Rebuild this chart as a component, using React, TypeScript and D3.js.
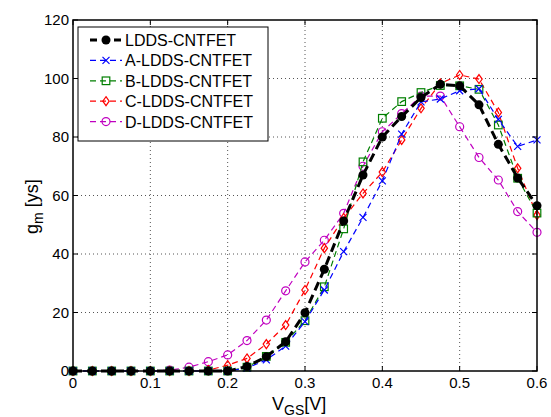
import React from 'react';
import * as d3 from 'd3';

// gate voltage steps (V)
const vgs = [0, 0.025, 0.05, 0.075, 0.1, 0.125, 0.15, 0.175, 0.2, 0.225, 0.25, 0.275, 0.3,
  0.325, 0.35, 0.375, 0.4, 0.425, 0.45, 0.475, 0.5, 0.525, 0.55, 0.575, 0.6];

const lddsValues = [0, 0, 0, 0, 0, 0, 0, 0, 0, 1.5, 4.9, 10, 19.9, 34.8, 51.3, 67, 80, 87, 93.5, 98, 97.5, 91, 77.5, 66, 56.5];
const aValues = [0, 0, 0, 0, 0, 0, 0, 0, 0, 1, 3.8, 8.5, 16.9, 27.7, 40.8, 52.5, 65, 81, 92, 93, 95.8, 96.5, 86, 76.8, 79];
const bValues = [0, 0, 0, 0, 0, 0, 0, 0, 0, 1.3, 5, 9.8, 17.2, 28.8, 48.6, 71.5, 86.4, 92.1, 95.2, 97.6, 97.5, 96.3, 84.1, 65.9, 54];
const cValues = [0, 0, 0, 0, 0, 0, 0, 0.3, 2, 4.3, 9.2, 15.7, 27.7, 42, 52.3, 60.7, 68, 79, 89.8, 98.3, 101.2, 99.8, 88.4, 69.3, 53.3];
const dValues = [0, 0, 0, 0, 0, 0.3, 1.3, 3.2, 5.5, 10.4, 17.4, 27.4, 37.3, 44.7, 53.9, 70, 81.8, 88, 94, 94, 83.5, 73, 65.3, 54.5, 47.4];

const seriesNames = ['LDDS-CNTFET', 'A-LDDS-CNTFET', 'B-LDDS-CNTFET', 'C-LDDS-CNTFET', 'D-LDDS-CNTFET'];

const xTicks = [0, 0.1, 0.2, 0.3, 0.4, 0.5, 0.6];
const yTicks = [0, 20, 40, 60, 80, 100, 120];

const width = 551;
const height = 417;
const margin = { top: 20, right: 14, bottom: 46, left: 73 };
const font = 'Arial, "Liberation Sans", sans-serif';

type Style = { color: string; width: number; dash: string; marker: string };
const styles: Style[] = [
  { color: '#000000', width: 3, dash: '9,5', marker: 'dot' },
  { color: '#0000ff', width: 1.2, dash: '6,4', marker: 'x' },
  { color: '#007f00', width: 1.2, dash: '6,4', marker: 'square' },
  { color: '#ff0000', width: 1.2, dash: '6,4', marker: 'diamond' },
  { color: '#c000c0', width: 1.2, dash: '6,4', marker: 'circle' },
];

function Marker({ kind, x, y, color }: { kind: string; x: number; y: number; color: string }) {
  if (kind === 'dot') return <circle cx={x} cy={y} r={4.5} fill={color} />;
  if (kind === 'x')
    return (
      <path d={`M${x - 3.5},${y - 3.5}L${x + 3.5},${y + 3.5}M${x - 3.5},${y + 3.5}L${x + 3.5},${y - 3.5}`}
        stroke={color} strokeWidth={1.2} />
    );
  if (kind === 'square')
    return <rect x={x - 3.8} y={y - 3.8} width={7.6} height={7.6} fill="none" stroke={color} strokeWidth={1.2} />;
  if (kind === 'diamond')
    return (
      <path d={`M${x},${y - 4.5}L${x + 3.2},${y}L${x},${y + 4.5}L${x - 3.2},${y}Z`}
        fill="none" stroke={color} strokeWidth={1.2} />
    );
  return <circle cx={x} cy={y} r={4} fill="none" stroke={color} strokeWidth={1.2} />;
}

export default function App() {
  const x = d3.scaleLinear().domain([0, 0.6]).range([margin.left, width - margin.right]);
  const y = d3.scaleLinear().domain([0, 120]).range([height - margin.bottom, margin.top]);
  const all = [lddsValues, aValues, bValues, cValues, dValues];
  const line = d3.line<number>().x((_, i) => x(vgs[i])).y((d) => y(d));

  const x0 = x(0), x1 = x(0.6), y0 = y(0), y1 = y(120);
  // draw series in reverse so black sits on top of D, like the original
  const order = [4, 3, 2, 1, 0];

  return (
    <svg width={width} height={height} style={{ position: 'absolute', left: 0, top: 0, background: '#fff' }}
      fontFamily={font}>
      <rect x={0} y={0} width={width} height={height} fill="#fff" />
      {/* grid */}
      {xTicks.slice(1, -1).map((t) => (
        <line key={'gx' + t} x1={x(t)} x2={x(t)} y1={y0} y2={y1} stroke="#555" strokeWidth={1} strokeDasharray="1,3" />
      ))}
      {yTicks.slice(1, -1).map((t) => (
        <line key={'gy' + t} x1={x0} x2={x1} y1={y(t)} y2={y(t)} stroke="#555" strokeWidth={1} strokeDasharray="1,3" />
      ))}
      {/* series */}
      {order.map((k) => (
        <g key={'s' + k}>
          <path d={line(all[k]) || ''} fill="none" stroke={styles[k].color} strokeWidth={styles[k].width}
            strokeDasharray={styles[k].dash} />
          {all[k].map((v, i) => (
            <Marker key={i} kind={styles[k].marker} x={x(vgs[i])} y={y(v)} color={styles[k].color} />
          ))}
        </g>
      ))}
      {/* frame and ticks */}
      <rect x={x0} y={y1} width={x1 - x0} height={y0 - y1} fill="none" stroke="#000" strokeWidth={1.5} />
      {xTicks.map((t) => (
        <g key={'tx' + t}>
          <line x1={x(t)} x2={x(t)} y1={y0} y2={y0 - 5} stroke="#000" />
          <line x1={x(t)} x2={x(t)} y1={y1} y2={y1 + 5} stroke="#000" />
          <text x={x(t)} y={y0 + 17} textAnchor="middle" fontSize={15}>{t === 0 ? '0' : t.toFixed(1)}</text>
        </g>
      ))}
      {yTicks.map((t) => (
        <g key={'ty' + t}>
          <line x1={x0} x2={x0 + 5} y1={y(t)} y2={y(t)} stroke="#000" />
          <line x1={x1} x2={x1 - 5} y1={y(t)} y2={y(t)} stroke="#000" />
          <text x={x0 - 4} y={y(t) + 5} textAnchor="end" fontSize={15}>{t}</text>
        </g>
      ))}
      {/* axis labels */}
      <text x={272} y={410} fontSize={18}>
        V<tspan fontSize={14} dy={5}>GS</tspan><tspan dy={-5}>[V]</tspan>
      </text>
      <text transform="translate(38,234) rotate(-90)" fontSize={18}>
        g<tspan fontSize={14} dy={5}>m</tspan><tspan dy={-5}> [ys]</tspan>
      </text>
      {/* legend */}
      <rect x={78} y={27} width={190} height={114} fill="#fff" stroke="#000" strokeWidth={1} />
      {seriesNames.map((name, k) => {
        const ly = 40 + k * 20.4;
        return (
          <g key={'l' + k}>
            <line x1={90} x2={122} y1={ly} y2={ly} stroke={styles[k].color} strokeWidth={styles[k].width}
              strokeDasharray={k === 0 ? '7,5' : '6,4'} />
            <Marker kind={styles[k].marker} x={106} y={ly} color={styles[k].color} />
            <text x={125} y={ly + 6} fontSize={16}>{name}</text>
          </g>
        );
      })}
    </svg>
  );
}
